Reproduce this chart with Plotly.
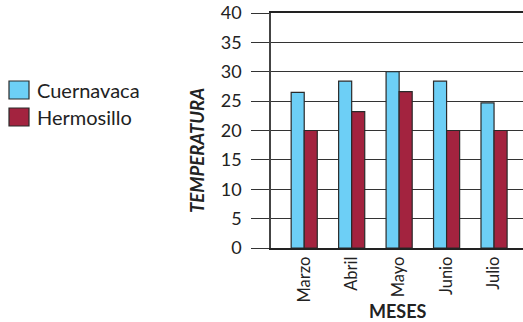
import plotly.graph_objects as go

meses = ["Marzo", "Abril", "Mayo", "Junio", "Julio"]
cuernavaca = [26.5, 28.4, 30, 28.4, 24.7]
hermosillo = [20, 23.2, 26.6, 20, 20]
y_ticks = [0, 5, 10, 15, 20, 25, 30, 35, 40]
series_names = ["Cuernavaca", "Hermosillo"]
series_colors = ["#6DCFF6", "#A3233F"]
x_title = "MESES"
y_title = "TEMPERATURA"

FONT = "Lato"
W, H = 523, 322
L, R, T, B = 271, 0, 13, 74
PW, PH = W - L - R, H - T - B

def px(x):
    return (x - L) / PW

def py(y):
    return (H - B - y) / PH

fig = go.Figure()
for name, vals, col in zip(series_names, [cuernavaca, hermosillo], series_colors):
    fig.add_trace(go.Bar(name=name, x=meses, y=vals,
                         marker=dict(color=col, line=dict(color="#2a2a2a", width=1.2))))

# manual legend
for i, (name, col) in enumerate(zip(series_names, series_colors)):
    top = 81 + i * 27
    fig.add_shape(type="rect", xref="paper", yref="paper",
                  x0=px(9), x1=px(29), y0=py(top), y1=py(top + 18),
                  fillcolor=col, line=dict(color="#2a2a2a", width=1.2))
    fig.add_annotation(xref="paper", yref="paper", x=px(35), y=py(top + 9),
                       xanchor="left", yanchor="middle", text=name, showarrow=False,
                       font=dict(family=FONT, size=20, color="#222"))

# axis titles
fig.add_annotation(xref="paper", yref="paper", x=px(197), y=py(151), textangle=-90,
                   xanchor="center", yanchor="middle", showarrow=False,
                   text="<b><i>%s</i></b>" % y_title,
                   font=dict(family=FONT, size=18.5, color="#222"))
fig.add_annotation(xref="paper", yref="paper", x=px(398), y=py(311),
                   xanchor="center", yanchor="middle", showarrow=False,
                   text="<b>%s</b>" % x_title, borderpad=0,
                   font=dict(family=FONT, size=18, color="#222"))

fig.update_layout(
    width=W, height=H,
    margin=dict(l=L, r=R, t=T, b=B, autoexpand=False),
    paper_bgcolor="white", plot_bgcolor="white",
    barmode="group", bargap=0.45, bargroupgap=0,
    font=dict(family=FONT, color="#222", size=15),
    showlegend=False,
    xaxis=dict(range=[-0.70, 4.61], showgrid=False, showline=True, linecolor="#222",
               linewidth=2, mirror=True, ticks="", tickangle=-90, automargin=False,
               tickfont=dict(family=FONT, size=16.5, color="#222")),
    yaxis=dict(range=[0, 40], tickvals=y_ticks, showgrid=True, gridcolor="#333", gridwidth=1.3,
               zeroline=False, showline=True, linecolor="#444", linewidth=1.5, automargin=False,
               ticks="outside", ticklen=18, tickcolor="#333", tickwidth=1.3,
               ticklabelstandoff=6,
               tickfont=dict(family=FONT, size=18, color="#222")),
)
fig.write_html("out.html", config={"displayModeBar": False},
               post_script="document.body.style.margin='0';document.body.style.overflow='hidden';")
